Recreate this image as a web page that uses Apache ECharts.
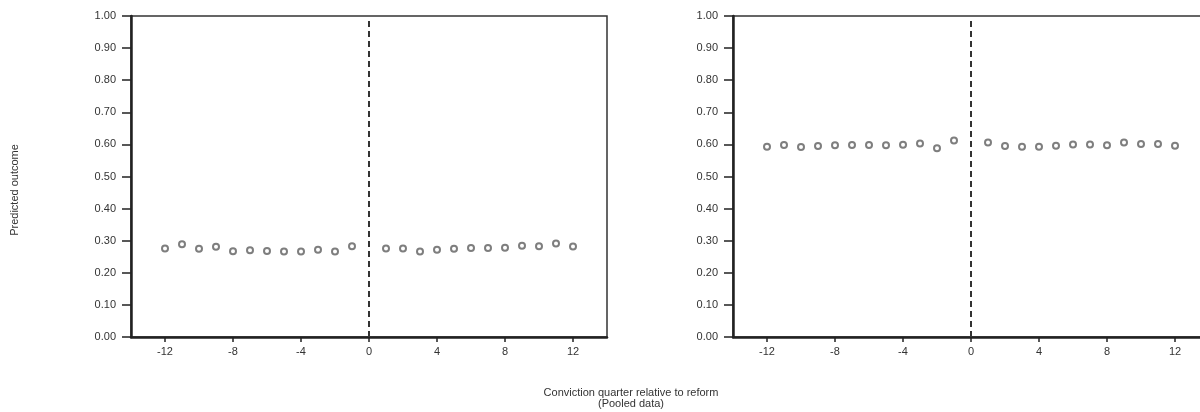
<!DOCTYPE html>
<html>
<head>
<meta charset="utf-8">
<script src="https://cdn.jsdelivr.net/npm/echarts@6/dist/echarts.min.js"></script>
<style>
html,body{margin:0;padding:0;background:#fff;overflow:hidden;width:1200px;height:412px;}
#c{width:1230px;height:412px;}
</style>
</head>
<body>
<div id="c"></div>
<script>
// Data
const quarters = [-12,-11,-10,-9,-8,-7,-6,-5,-4,-3,-2,-1,1,2,3,4,5,6,7,8,9,10,11,12];
const leftValues = [0.276,0.289,0.275,0.281,0.267,0.270,0.268,0.266,0.266,0.272,0.266,0.283,
                    0.276,0.276,0.266,0.272,0.275,0.277,0.277,0.278,0.284,0.283,0.291,0.282];
const rightValues = [0.593,0.598,0.592,0.595,0.597,0.598,0.598,0.597,0.599,0.603,0.588,0.612,
                     0.606,0.595,0.593,0.593,0.596,0.600,0.600,0.597,0.606,0.601,0.601,0.596];
const xTickValues = [-12,-8,-4,0,4,8,12];
const reformLine = [[0,0],[0,0.985]];
const yLabel = 'Predicted outcome';
const xLabelLines = ['Conviction quarter relative to reform','(Pooled data)'];

const FONT = '"Liberation Sans", Arial, sans-serif';
const chart = echarts.init(document.getElementById('c'), null, {renderer:'canvas'});

function xAxisCfg(gi){
  return {
    gridIndex: gi, type:'value', min:-14, max:14,
    splitLine:{show:false},
    axisLine:{show:true, onZero:false, lineStyle:{color:'#222', width:2.5}},
    axisTick:{show:true, length:5, lineStyle:{color:'#222', width:1.5}, customValues:xTickValues},
    axisLabel:{color:'#333', fontSize:11, fontFamily:FONT, margin:9, customValues:xTickValues}
  };
}
function yAxisCfg(gi){
  return {
    gridIndex: gi, type:'value', min:0, max:1, interval:0.1,
    splitLine:{show:false},
    axisLine:{show:true, onZero:false, lineStyle:{color:'#222', width:2.5}},
    axisTick:{show:true, length:9, lineStyle:{color:'#222', width:1.5}},
    axisLabel:{color:'#333', fontSize:11, fontFamily:FONT, margin:15,
      formatter:v=>v.toFixed(2)}
  };
}
function scatter(gi, vals){
  return {
    type:'scatter', xAxisIndex:gi, yAxisIndex:gi,
    data: quarters.map((q,i)=>[q, vals[i]]),
    symbol:'circle', symbolSize:6,
    itemStyle:{color:'#fff', borderColor:'#5e5e5e', borderWidth:2},
    silent:true, z:3
  };
}
function dashLine(gi){
  return {
    type:'line', xAxisIndex:gi, yAxisIndex:gi, data:reformLine,
    symbol:'none', silent:true, z:2,
    lineStyle:{color:'#333', width:2, type:[6,4]}
  };
}

chart.setOption({
  animation:false,
  backgroundColor:'#fff',
  grid:[
    {left:131, top:16, width:476, height:321, show:true, borderColor:'#333', borderWidth:1.5, backgroundColor:'transparent'},
    {left:733, top:16, width:476, height:321, show:true, borderColor:'#333', borderWidth:1.5, backgroundColor:'transparent'}
  ],
  xAxis:[xAxisCfg(0), xAxisCfg(1)],
  yAxis:[yAxisCfg(0), yAxisCfg(1)],
  series:[dashLine(0), scatter(0, leftValues), dashLine(1), scatter(1, rightValues)],
  graphic:[
    {type:'text', x:15, y:190, rotation:Math.PI/2, style:{text:yLabel, fill:'#333', font:'11px '+FONT, textAlign:'center', textVerticalAlign:'middle'}},
    {type:'text', x:631, y:393, style:{text:xLabelLines[0], fill:'#333', font:'11px '+FONT, textAlign:'center', textVerticalAlign:'middle'}},
    {type:'text', x:631, y:404, style:{text:xLabelLines[1], fill:'#333', font:'11px '+FONT, textAlign:'center', textVerticalAlign:'middle'}}
  ]
});
</script>
</body>
</html>
